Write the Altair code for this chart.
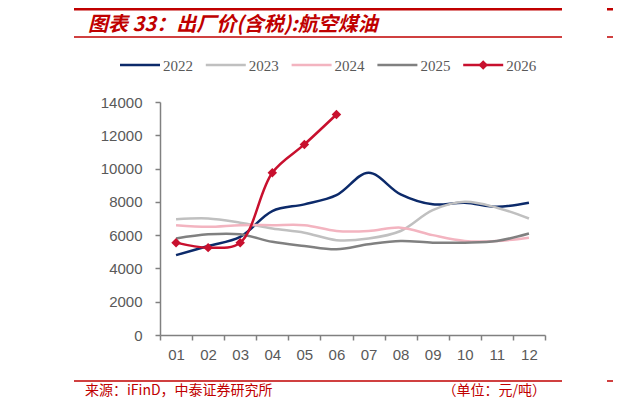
import altair as alt
import pandas as pd

months = ["01", "02", "03", "04", "05", "06", "07", "08", "09", "10", "11", "12"]
years = ["2022", "2023", "2024", "2025", "2026"]
v2022 = [4800, 5350, 5900, 7450, 7850, 8400, 9750, 8450, 7850, 7950, 7700, 7950]
v2023 = [6950, 7000, 6750, 6400, 6150, 5700, 5800, 6250, 7500, 8000, 7650, 7000]
v2024 = [6600, 6500, 6600, 6600, 6600, 6250, 6250, 6450, 6000, 5650, 5650, 5850]
v2025 = [5800, 6050, 6050, 5600, 5350, 5150, 5450, 5650, 5550, 5550, 5650, 6100]
v2026 = [5550, 5250, 5550, 9750, 11450, 13250]
colors = ["#0c2a6a", "#c0c0c0", "#f3b4c0", "#808080", "#c8102e"]

rows = []
for y, vals in zip(years, [v2022, v2023, v2024, v2025, v2026]):
    for m, v in zip(months, vals):
        rows.append({"month": m, "year": y, "value": v})
df = pd.DataFrame(rows)

RED = "#c00000"
CJK = "Noto Sans CJK SC"
one = pd.DataFrame({"a": [0]})

x_enc = alt.X("month:O", scale=alt.Scale(type="band", domain=months, paddingInner=0, paddingOuter=0),
              bandPosition=0.5,
              axis=alt.Axis(title=None, labelAngle=0, tickBand="extent", tickSize=5, labelPadding=7,
                            labelFontSize=15, labelColor="#595959", labelFont="Liberation Sans",
                            domainColor="#808080", tickColor="#808080", domainWidth=1.5, tickWidth=1.5))
y_enc = alt.Y("value:Q", scale=alt.Scale(domain=[0, 14000]),
              axis=alt.Axis(title=None, values=list(range(0, 14001, 2000)), format="d", grid=False,
                            tickSize=5, labelPadding=13, labelFontSize=15, labelColor="#595959",
                            labelFont="Liberation Sans", domainColor="#808080", tickColor="#808080",
                            domainWidth=1.5, tickWidth=1.5))
color_enc = alt.Color("year:N", scale=alt.Scale(domain=years, range=colors), legend=None)

lines = alt.Chart(df).mark_line(interpolate="catmull-rom", strokeWidth=2.5).encode(
    x=x_enc, y=y_enc, color=color_enc)
points = alt.Chart(df[df.year == "2026"]).mark_point(
    shape="diamond", filled=True, size=90, opacity=1, color=colors[4]).encode(x=x_enc, y=y_enc)

layers = [lines, points]

# legend
for i, (yr, c) in enumerate(zip(years, colors)):
    x0 = -40 + 85.8 * i
    layers.append(alt.Chart(one).mark_rule(color=c, strokeWidth=2.5).encode(
        x=alt.value(x0), x2=alt.value(x0 + 40), y=alt.value(-37)))
    layers.append(alt.Chart(one).mark_text(text=yr, align="left", baseline="middle",
                                           font="Liberation Serif", fontSize=15, color="#595959").encode(
        x=alt.value(x0 + 43), y=alt.value(-36)))
    if yr == "2026":
        layers.append(alt.Chart(one).mark_point(shape="diamond", filled=True, size=90, opacity=1,
                                                color=c).encode(x=alt.value(x0 + 20), y=alt.value(-37)))

# frame rules and texts
for (xa, xb) in [(-86, 402), (447, 470)]:
    layers.append(alt.Chart(one).mark_rule(color=RED, strokeWidth=3).encode(
        x=alt.value(xa), x2=alt.value(xb), y=alt.value(-93)))
    layers.append(alt.Chart(one).mark_rule(color=RED, strokeWidth=1.5).encode(
        x=alt.value(xa), x2=alt.value(xb), y=alt.value(-65)))
    layers.append(alt.Chart(one).mark_rule(color=RED, strokeWidth=1.5).encode(
        x=alt.value(xa), x2=alt.value(xb), y=alt.value(279)))

layers.append(alt.Chart(one).mark_text(text="图表 33：出厂价(含税):航空煤油", align="left", baseline="alphabetic",
                                       font=CJK, fontSize=20, fontWeight="bold", fontStyle="italic",
                                       color=RED).encode(x=alt.value(-72), y=alt.value(-71)))
layers.append(alt.Chart(one).mark_text(text="来源：iFinD，中泰证券研究所", align="left", baseline="middle",
                                       font=CJK, fontSize=14, color=RED).encode(
    x=alt.value(-75), y=alt.value(289)))
layers.append(alt.Chart(one).mark_text(text="（单位：元/吨）", align="right", baseline="middle",
                                       font=CJK, fontSize=14, color=RED).encode(
    x=alt.value(386), y=alt.value(289)))

chart = alt.layer(*layers).properties(
    width=385, height=233,
    padding={"left": 152, "top": 94, "right": 68, "bottom": 64},
    autosize=alt.AutoSizeParams(type="none"),
).configure_view(strokeWidth=0)

chart.save("out.html", embed_options={"renderer": "svg", "actions": False})
